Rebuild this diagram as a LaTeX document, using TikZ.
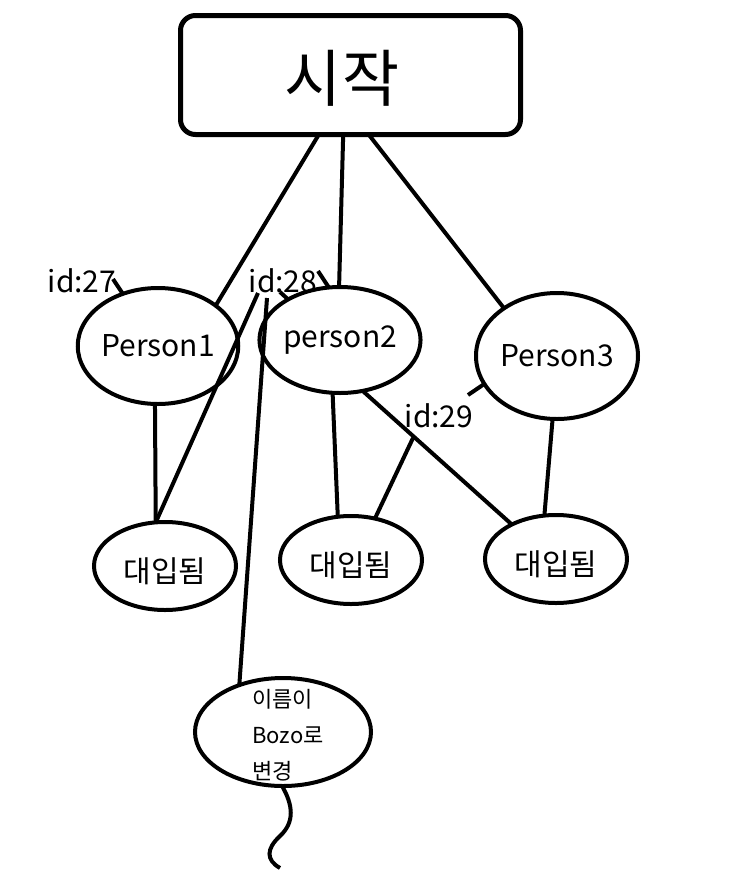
\documentclass[tikz,border=0pt]{standalone}
\usepackage{fontspec}
\setmainfont{Noto Sans CJK KR}
\usetikzlibrary{shapes.geometric}
\tikzset{
  blob/.style={ellipse, draw, line width=4pt, inner sep=0pt, outer sep=0pt},
  idtag/.style={inner sep=0pt, font=\fontsize{30}{32}\selectfont},
  wire/.style={line width=4pt}
}
\begin{document}
\begin{tikzpicture}[x=1pt,y=-1pt]
			\useasboundingbox (0,0) rectangle (736,871);
			\node[draw, rounded corners=15pt, line width=5pt, outer sep=0pt, minimum width=340pt, minimum height=119pt, font=\fontsize{62}{64}\selectfont] (start) at (350.5,75) {\hspace*{-17pt}\raisebox{-3pt}[\height][\depth]{시작}};
			\foreach \n/\x/\y/\w/\h/\t in {p1/158/346/156/116/Person1, p2/340/340/148/106/person2, p3/557/356/162/126/Person3}
				\node[blob, minimum width=\w pt, minimum height=\h pt, font=\fontsize{30}{32}\selectfont] (\n) at (\x,\y) {\t};
			\foreach \n/\x/\y in {d1/165/566, d2/351/560, d3/556/559}
				\node[blob, minimum width=142pt, minimum height=88pt, font=\fontsize{30}{32}\selectfont] (\n) at (\x,\y) {\raisebox{-5pt}[\height][\depth]{대입됨}};
			\node[blob, minimum width=176pt, minimum height=108pt, font=\fontsize{22}{36}\selectfont] (bozo) at (283,732) {\smash{\raisebox{-9pt}{\begin{tabular}{@{\hspace{10pt}}l@{}}이름이\\Bozo로\\변경\end{tabular}}}};
			\node[idtag] (id27) at (82,281) {id:27};
			\node[idtag] (id28) at (283,281) {id:28};
			\node[idtag] (id29) at (439,416) {id:29};
			% free ends of the hand drawn ticks
			\coordinate (t27) at (113,279);
			\coordinate (t28a) at (258,293);
			\coordinate (t28b) at (267,298);
			\coordinate (t28c) at (318,271);
			\coordinate (t28d) at (280,292);
			\coordinate (t29a) at (413,438);
			\coordinate (t29b) at (468,395);
			\coordinate (tailend) at (280,868);
			\draw[wire] (start.242) -- (p1.35);
			\draw[wire] (start.263) -- (p2.91);
			\draw[wire] (start.287.5) -- (p3.138);
			\draw[wire] (p1.-93) -- (d1.102);
			\draw[wire] (p2.-98) -- (d2.107);
			\draw[wire] (p2.-66) -- (d3.142);
			\draw[wire] (p3.-94) -- (d3.105);
			\draw[wire] (t27) -- (p1.124);
			\draw[wire] (t28a) -- (d1.102);
			\draw[wire] (t28b) -- (bozo.133);
			\draw[wire] (t28c) -- (p2.102);
			\draw[wire] (t28d) -- (p2.142);
			\draw[wire] (t29a) -- (d2.60);
			\draw[wire] (t29b) -- (p3.201);
			\draw[wire] (bozo.-91) .. controls (293,805) and (295,822) .. (280,836) .. controls (266,849) and (266,860) .. (tailend);
		\end{tikzpicture}
\end{document}
